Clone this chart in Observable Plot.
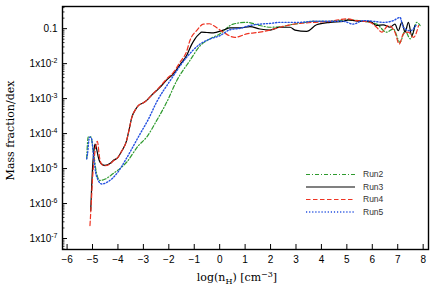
<!DOCTYPE html>
<html><head><meta charset="utf-8">
<script src="https://cdn.jsdelivr.net/npm/d3@7"></script>
<script src="https://cdn.jsdelivr.net/npm/@observablehq/plot@0.6"></script>
<style>body{margin:0;background:#fff}</style>
</head><body><div id="chart"></div>
<script>
// ---- data (log10 of mass fraction per dex) ----
const xTicks = [-6,-5,-4,-3,-2,-1,0,1,2,3,4,5,6,7,8];
const yTicks = [1e-7,1e-6,1e-5,1e-4,1e-3,1e-2,0.1];
const runNames = ["Run2","Run3","Run4","Run5"];
const runColors = ["#2e9a2e","#000000","#ee3322","#2450e0"];
const runDashes = ["4,2,1,2","none","4.5,2.5","1.2,1.9"];
const legendColors = ["#2e9a2e","#808080","#ee3322","#2450e0"];

const xRun2 = [-5.23,-5.17,-5.07,-4.95,-4.85,-4.71,-4.5,-4.2,-3.66,-3.2,-2.87,-2.48,-2.08,-1.69,-1.17,-0.77,-0.4,0,0.53,1.06,1.58,1.98,2.37,2.77,3.16,3.68,4.34,5.0,5.65,6.17,6.56,6.83,7.09,7.29,7.49,7.75,7.88];
const logRun2 = [-4.72,-4.1,-4.09,-4.6,-5.1,-5.34,-5.3,-5.15,-4.82,-4.35,-4.1,-3.63,-3.1,-2.49,-1.91,-1.49,-1.3,-1.15,-0.87,-0.82,-0.91,-0.96,-0.95,-0.89,-0.85,-0.79,-0.79,-0.75,-0.79,-0.87,-1.1,-1.01,-1.39,-1.06,-1.29,-0.82,-0.91];

const xRun3 = [-5.07,-5.0,-4.93,-4.9,-4.85,-4.78,-4.72,-4.64,-4.51,-4.3,-4.18,-4.0,-3.85,-3.66,-3.55,-3.46,-3.3,-3.2,-3.0,-2.87,-2.7,-2.35,-2.1,-1.82,-1.55,-1.3,-1.1,-0.97,-0.8,-0.71,-0.5,-0.25,0.14,0.41,0.8,1.19,1.58,1.98,2.37,2.77,2.96,3.42,3.81,4.34,4.86,5.06,5.52,5.91,6.17,6.43,6.7,6.89,7.02,7.16,7.29,7.42,7.55,7.68];
const logRun3 = [-6.2,-5.0,-4.4,-4.3,-4.4,-4.65,-4.8,-4.87,-4.91,-4.85,-4.77,-4.68,-4.5,-4.2,-3.85,-3.55,-3.3,-3.2,-3.12,-3.05,-2.92,-2.68,-2.48,-2.29,-2.02,-1.77,-1.45,-1.29,-1.15,-1.1,-1.11,-1.12,-1.04,-0.98,-0.98,-0.94,-1.01,-1.04,-0.96,-0.96,-1.04,-1.08,-0.89,-0.82,-0.79,-0.75,-0.79,-0.79,-0.91,-0.89,-0.96,-0.87,-1.06,-0.82,-1.1,-0.82,-1.2,-0.91];

const xRun4 = [-5.1,-5.05,-5.0,-4.9,-4.81,-4.72,-4.64,-4.51,-4.3,-4.18,-4.0,-3.85,-3.66,-3.55,-3.46,-3.3,-3.2,-3.0,-2.87,-2.7,-2.35,-2.1,-1.82,-1.55,-1.3,-1.17,-0.9,-0.64,-0.4,-0.25,0.14,0.6,1.06,1.58,1.98,2.37,2.77,3.16,3.68,4.34,4.99,5.39,5.91,6.17,6.37,6.63,6.89,7.06,7.22,7.42,7.62,7.82];
const logRun4 = [-6.63,-6.0,-5.3,-4.5,-4.22,-4.7,-4.88,-4.92,-4.86,-4.78,-4.68,-4.5,-4.2,-3.85,-3.55,-3.3,-3.2,-3.12,-3.05,-2.92,-2.66,-2.45,-2.25,-1.95,-1.65,-1.34,-1.05,-0.87,-0.86,-0.91,-1.1,-1.25,-1.15,-1.1,-1.04,-0.96,-0.89,-0.85,-0.82,-0.79,-0.72,-0.77,-0.82,-0.96,-1.1,-0.91,-1.1,-1.44,-1.15,-1.1,-1.25,-0.91];

const xRun5 = [-5.23,-5.2,-5.12,-5.05,-4.95,-4.85,-4.64,-4.4,-4.0,-3.66,-3.13,-2.81,-2.48,-1.95,-1.3,-0.77,-0.4,0.01,0.41,0.8,1.19,1.58,1.98,2.37,3.16,3.68,4.34,4.86,5.25,5.65,6.04,6.43,6.83,7.09,7.22,7.49,7.75];
const logRun5 = [-4.72,-4.6,-4.1,-4.12,-4.7,-5.2,-5.44,-5.38,-5.1,-4.7,-4.01,-3.6,-3.1,-2.49,-1.82,-1.44,-1.3,-1.2,-1.03,-0.99,-0.91,-0.87,-0.85,-0.82,-0.82,-0.79,-0.79,-0.79,-0.87,-0.77,-0.79,-0.82,-0.77,-0.68,-0.96,-1.06,-0.87];

// ---- layout ----
const W = 436, H = 299, mL = 62, mR = 8, mT = 6, mB = 50;
const plotW = W - mL - mR, plotH = H - mT - mB;
const xDomain = [-6.18, 8.21];
const yDomain = [4.85e-8, 0.43];

const xs = [xRun2, xRun3, xRun4, xRun5];
const ls = [logRun2, logRun3, logRun4, logRun5];
const series = runNames.map((name, i) => xs[i].map((x, j) => ({run: name, x, y: Math.pow(10, ls[i][j])})));

const yMinor = [];
for (let e = -8; e <= -1; e++) for (let m = 2; m <= 9; m++) {
  const v = m * Math.pow(10, e);
  if (v > yDomain[0] && v < yDomain[1]) yMinor.push(v);
}

const fmtY = d => d >= 0.1 ? "0.1" : "1x10^" + Math.round(Math.log10(d));

const chart = Plot.plot({
  width: W, height: H,
  marginLeft: mL, marginRight: mR, marginTop: mT, marginBottom: mB,
  style: {fontFamily: "Liberation Sans, Arial, sans-serif", fontSize: "10px", background: "#fff", color: "#000"},
  x: {domain: xDomain, label: null},
  y: {type: "log", domain: yDomain, label: null},
  marks: [
    ...series.map((s, i) => Plot.line(s, {x: "x", y: "y", stroke: runColors[i], strokeWidth: i === 3 ? 1.4 : 1.2, strokeDasharray: runDashes[i], curve: "monotone-x"})),
    Plot.tickY(yTicks, {y: d => d, insetRight: plotW - 5, stroke: "#000", strokeWidth: 1}),
    Plot.tickY(yMinor, {y: d => d, insetRight: plotW - 2.5, stroke: "#000", strokeWidth: 0.8}),
    Plot.tickX(xTicks, {x: d => d, insetTop: plotH - 5, stroke: "#000", strokeWidth: 1}),
    Plot.axisX(xTicks, {tickSize: 0, tickPadding: 6, label: null}),
    Plot.axisY(yTicks, {tickSize: 0, tickPadding: 5, tickFormat: fmtY, label: null}),
    Plot.frame({stroke: "#000", strokeWidth: 1.4})
  ]
});
document.getElementById("chart").appendChild(chart);

const svg = d3.select(chart);
// superscript exponents in y tick labels
svg.selectAll('g[aria-label="y-axis tick label"] text').each(function() {
  const t = this.textContent;
  if (t.includes("^")) {
    const [base, exp] = t.split("^");
    const sel = d3.select(this);
    sel.text(null);
    sel.append("tspan").text(base);
    sel.append("tspan").attr("dy", "-4").attr("font-size", "7px").text(exp);
  }
});

// axis titles (serif, with sub/superscripts)
const serif = "DejaVu Serif, serif";
const xl = svg.append("text").attr("x", 237).attr("y", 281).attr("text-anchor", "middle")
  .attr("font-family", serif).attr("font-size", "11px").attr("fill", "#000");
xl.append("tspan").text("log(n");
xl.append("tspan").attr("dy", "2.5").attr("font-size", "8px").text("H");
xl.append("tspan").attr("dy", "-2.5").text(") [cm");
xl.append("tspan").attr("dy", "-4.5").attr("font-size", "8px").text("−3");
xl.append("tspan").attr("dy", "4.5").text("]");

svg.append("text").attr("transform", `translate(13.5,${(mT + H - mB) / 2 + 3}) rotate(-90)`)
  .attr("text-anchor", "middle").attr("font-family", serif).attr("font-size", "11px").attr("fill", "#000")
  .text("Mass fraction/dex");

// legend
const lg = svg.append("g");
const legendY = [174.5, 187, 199.5, 212];
runNames.forEach((name, i) => {
  lg.append("line").attr("x1", 306).attr("x2", 355).attr("y1", legendY[i]).attr("y2", legendY[i])
    .attr("stroke", legendColors[i]).attr("stroke-width", i === 1 ? 1.8 : (i === 3 ? 1.4 : 1.2))
    .attr("stroke-dasharray", runDashes[i]);
  lg.append("text").attr("x", 363).attr("y", legendY[i]).attr("dy", "0.35em")
    .attr("text-anchor", "start")
    .attr("font-size", "8.5px").attr("fill", "#333").text(name);
});
</script>
</body></html>
